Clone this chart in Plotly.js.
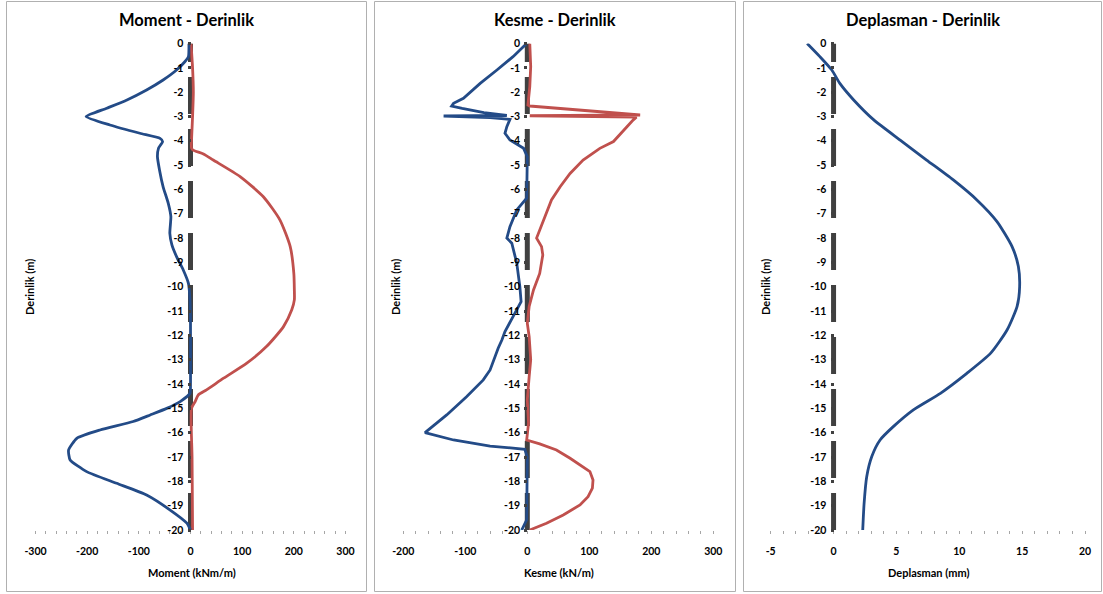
<!DOCTYPE html>
<html>
<head>
<meta charset="utf-8">
<script src="https://cdn.plot.ly/plotly-3.0.1.min.js"></script>
<style>html,body{margin:0;padding:0;background:#fff;}#chart{width:1103px;height:594px;}</style>
</head>
<body>
<div id="chart"></div>
<script>
// ---------- DATA ----------
const titles = ["Moment - Derinlik", "Kesme - Derinlik", "Deplasman - Derinlik"];
const xTitles = ["Moment (kNm/m)", "Kesme (kN/m)", "Deplasman (mm)"];
const yTitle = "Derinlik (m)";

const momentMinDepth = [0,-0.54,-0.75,-1.09,-1.5,-1.91,-2.32,-2.66,-3.0,-3.35,-3.69,-3.9,-4.03,-4.31,-4.65,-5.2,-5.89,-6.57,-7.12,-7.8,-8.28,-8.76,-9.31,-9.86,-10.54,-11.5,-12.9,-14.0,-14.38,-14.72,-15.0,-15.27,-15.54,-15.89,-16.23,-16.71,-17.12,-17.6,-18.08,-18.56,-19.17,-19.72,-20];
const momentMin = [-3,-4,-11,-27,-53,-85,-123,-162,-202,-156,-98,-59,-54,-62,-64,-60,-53,-43,-38,-40,-36,-27,-14,-4,-1,0,0,0,-1,-20,-46,-78,-111,-175,-220,-236,-233,-201,-143,-85,-40,-7,0];

const momentMaxDepth = [0,-1,-2,-3,-4,-4.3,-4.38,-4.54,-4.79,-5.47,-6.3,-7.25,-8.35,-9.45,-10.13,-10.54,-10.95,-11.64,-12.46,-13.14,-13.76,-14.24,-14.45,-14.72,-15.0,-17,-20];
const momentMax = [1,4,5.5,4,2,2,5,25,44,96,141,173,193,200,201,201,196,180,147,109,64,31,15,9,2,3,4];

const shearMinDepth = [0,-0.54,-1.09,-1.64,-2.25,-2.46,-2.57,-2.67,-2.84,-2.96,-2.98,-3.05,-3.12,-3.42,-3.69,-3.97,-4.31,-4.65,-6.36,-6.84,-7.53,-8.0,-8.21,-9.03,-10.0,-10.61,-11.23,-11.84,-12.19,-12.53,-13.42,-13.83,-14.52,-15.27,-16.0,-16.3,-16.55,-16.68,-17.0,-19.58,-20];
const shearMin = [-1,-23,-49,-76,-103,-119,-122,-105,-70,-33,-135,-60,-28,-33,-36,-28,-6,0,-1,-17,-28,-33,-25,-17,-12,-10,-23,-36,-41,-47,-60,-71,-98,-130,-165,-119,-60,-4,0,-1,-9];

const shearMaxDepth = [0,-0.95,-1.77,-2.53,-2.57,-2.94,-2.97,-3.03,-3.14,-4.03,-4.31,-4.79,-5.34,-5.89,-6.43,-7.12,-8.0,-8.35,-8.69,-9.45,-10.13,-10.81,-11.5,-12.05,-13.0,-13.69,-14.65,-15.61,-16.3,-16.46,-16.71,-17.05,-17.33,-17.6,-17.94,-18.28,-18.63,-18.97,-19.38,-19.72,-20];
const shearMax = [4,5.5,4,1,4,182,4,176,171,139,117,90,69,53,39,29,15,23,25,20,10,3,0,3,5.5,3,0,2,-1,20,47,69,85,101,106,105,98,85,58,31,4];

const dispDepth = [0,-0.55,-1.09,-1.64,-2.32,-3.14,-3.97,-4.79,-5.6,-6.43,-7.32,-8.35,-9.17,-10.0,-10.81,-11.78,-12.73,-13.56,-14.38,-15.06,-15.75,-16.3,-16.98,-17.8,-18.9,-20];
const disp = [-2.1,-1.07,-0.14,0.5,1.6,3.2,5.3,7.4,9.5,11.4,13.0,14.2,14.7,14.8,14.6,13.8,12.5,10.6,8.5,6.35,4.75,3.7,3.04,2.64,2.43,2.32];

const depthTicks = [0,-1,-2,-3,-4,-5,-6,-7,-8,-9,-10,-11,-12,-13,-14,-15,-16,-17,-18,-19,-20];
const depthTickText = ["0","-1","-2","-3","-4","-5","-6","-7","-8","-9","-10","-11","-12","-13","-14","-15","-16","-17","-18","-19","-20"];
const momentTicks = [-300,-200,-100,0,100,200,300];
const momentTickText = ["-300","-200","-100","0","100","200","300"];
const shearTicks = [-200,-100,0,100,200,300];
const shearTickText = ["-200","-100","0","100","200","300"];
const dispTicks = [-5,0,5,10,15,20];
const dispTickText = ["-5","0","5","10","15","20"];

// ---------- STYLE / LAYOUT ----------
const W = 1103, H = 594;
const BLUE = '#234b87', RED = '#c0504d', DARK = '#404040';
const FONT = 'Lato, "Open Sans", sans-serif';
const px = v => v / W, py = v => 1 - v / H;

const yDomain = [py(530), py(43.5)];
const xDomains = [[px(35.5), px(345.5)], [px(403.3), px(713.3)], [px(770.7), px(1085)]];
const yPos = [px(190.5), px(527.3), px(833.5)];

function pileTrace(i) {
  const s = i === 0 ? '' : String(i + 1);
  return {x: [0, 0], y: [-20, 0], xaxis: 'x' + s, yaxis: 'y' + s, mode: 'lines',
    line: {color: DARK, width: 5, dash: '37px,15px'}, hoverinfo: 'skip', showlegend: false};
}
function line(i, x, y, color, shape, sm) {
  const s = i === 0 ? '' : String(i + 1);
  return {x: x, y: y, xaxis: 'x' + s, yaxis: 'y' + s, mode: 'lines',
    line: {color: color, width: 2.8, shape: shape || 'linear', smoothing: sm || 0.6}, showlegend: false};
}

const traces = [
  pileTrace(0), pileTrace(1), pileTrace(2),
  line(0, momentMax, momentMaxDepth, RED, 'spline'),
  line(0, momentMin, momentMinDepth, BLUE, 'spline', 0.5),
  line(1, shearMax, shearMaxDepth, RED),
  line(1, shearMin, shearMinDepth, BLUE),
  line(2, disp, dispDepth, BLUE, 'spline')
];

const tickFont = {family: FONT, size: 10.5, color: '#000', weight: 'bold'};
function xAxis(i, range, tv, tt, minorD) {
  const s = i === 0 ? '' : String(i + 1);
  return {domain: xDomains[i], range: range, anchor: 'y' + s, tickmode: 'array', tickvals: tv, ticktext: tt,
    ticks: 'outside', ticklen: 3, tickwidth: 1, tickcolor: '#a6a6a6', showline: false, showgrid: false, zeroline: false,
    tickfont: tickFont, ticklabelstandoff: 8,
    minor: {dtick: minorD, tick0: 0, ticks: 'outside', ticklen: 3, tickwidth: 1, tickcolor: '#a6a6a6', showgrid: false}};
}
function yAxis(i) {
  return {domain: yDomain, range: [-20, 0], anchor: 'free', position: yPos[i], side: 'left',
    tickmode: 'array', tickvals: depthTicks, ticktext: depthTickText,
    ticks: 'outside', ticklen: 3, tickwidth: 3, tickcolor: DARK, showline: false, showgrid: false, zeroline: false,
    tickfont: tickFont, ticklabelstandoff: 2};
}

const panels = [[6.5, 1.5, 366.5, 591.5], [374.5, 1.5, 735.5, 591.5], [743.5, 1.5, 1101.5, 591.5]];
const shapes = panels.map(p => ({type: 'rect', xref: 'paper', yref: 'paper', x0: px(p[0]), x1: px(p[2]), y0: py(p[3]), y1: py(p[1]),
  line: {color: '#b0b0b0', width: 1}, fillcolor: 'rgba(0,0,0,0)', layer: 'below'}));

const titleX = [186.7, 554.5, 922.7];
const xTitleX = [191.5, 558.7, 928.3];
const yTitleX = [29, 395, 765];
const annotations = [];
for (let i = 0; i < 3; i++) {
  annotations.push({text: '<b>' + titles[i] + '</b>', xref: 'paper', yref: 'paper', x: px(titleX[i]), y: py(20.5),
    xanchor: 'center', yanchor: 'middle', showarrow: false, font: {family: FONT, size: 16.5, color: '#000'}});
  annotations.push({text: '<b>' + xTitles[i] + '</b>', xref: 'paper', yref: 'paper', x: px(xTitleX[i]), y: py(572),
    xanchor: 'center', yanchor: 'middle', showarrow: false, font: {family: FONT, size: 11, color: '#000'}});
  annotations.push({text: '<b>' + yTitle + '</b>', xref: 'paper', yref: 'paper', x: px(yTitleX[i]), y: py(287),
    xanchor: 'center', yanchor: 'middle', textangle: -90, showarrow: false, font: {family: FONT, size: 11, color: '#000'}});
}

const layout = {
  width: W, height: H, margin: {l: 0, r: 0, t: 0, b: 0}, paper_bgcolor: '#fff', plot_bgcolor: 'rgba(0,0,0,0)',
  showlegend: false, font: {family: FONT},
  xaxis: xAxis(0, [-300, 300], momentTicks, momentTickText, 20),
  xaxis2: xAxis(1, [-200, 300], shearTicks, shearTickText, 20),
  xaxis3: xAxis(2, [-5, 20], dispTicks, dispTickText, 1),
  yaxis: yAxis(0), yaxis2: yAxis(1), yaxis3: yAxis(2),
  shapes: shapes, annotations: annotations
};

Plotly.newPlot('chart', traces, layout, {displayModeBar: false, staticPlot: true});
</script>
</body>
</html>
